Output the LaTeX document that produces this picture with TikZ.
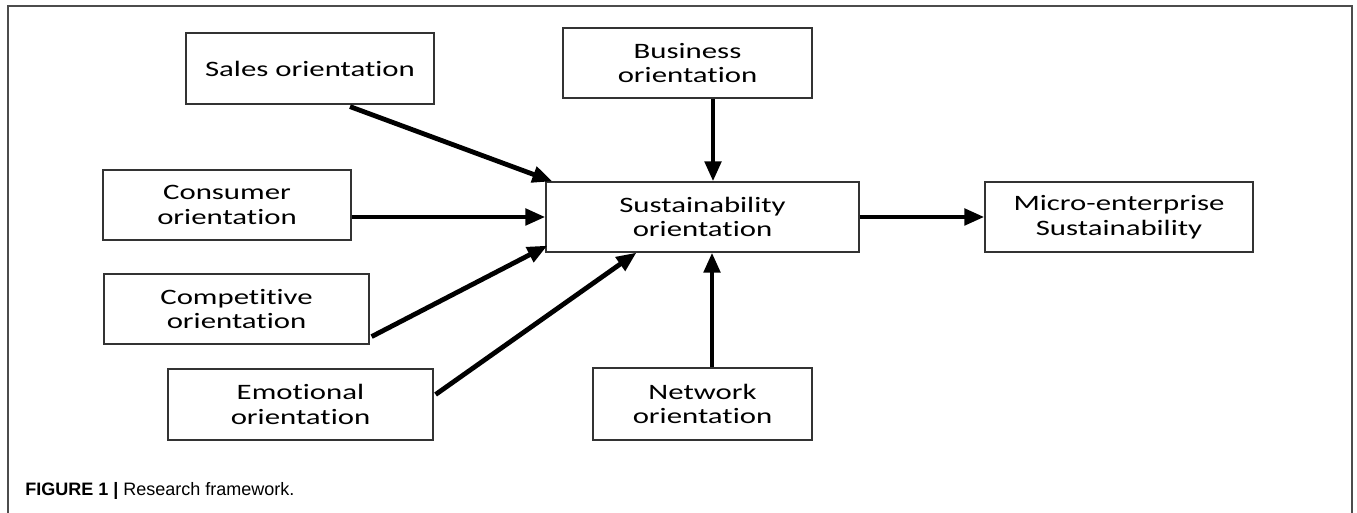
\documentclass[tikz,border=0pt]{standalone}
\usepackage{fontspec}
\setmainfont{Carlito}[FakeStretch=1.4,Ligatures=NoCommon]
\newfontfamily\capfont{Liberation Sans}
\usetikzlibrary{arrows.meta}

\begin{document}
\begin{tikzpicture}[x=0.75pt,y=-0.75pt,
        box/.style={draw=black!80,line width=0.9pt,align=center,inner sep=0pt,
            font=\fontsize{16.5}{18.5}\selectfont},
        arr/.style={line width=3.6pt,-{Triangle[length=15pt,width=12pt]}}]
    \useasboundingbox (0,0) rectangle (1357,513);
    \draw[black!70,line width=1.4pt] (8,513) -- (8,6) -- (1352,6) -- (1352,513);

    \node[box,minimum width=248*0.75pt,minimum height=71*0.75pt] (sales) at (310,68.5) {Sales orientation};
    \node[box,minimum width=249*0.75pt,minimum height=70*0.75pt] (bus) at (687.5,63) {Business\\orientation};
    \node[box,minimum width=248*0.75pt,minimum height=70*0.75pt] (cons) at (227,205) {Consumer\\orientation};
    \node[box,minimum width=265*0.75pt,minimum height=70*0.75pt] (comp) at (236.5,309) {Competitive\\orientation};
    \node[box,minimum width=265*0.75pt,minimum height=71*0.75pt] (emo) at (300.5,404.5) {Emotional\\orientation};
    \node[box,minimum width=219*0.75pt,minimum height=72*0.75pt] (net) at (702.5,404) {Network\\orientation};
    \node[box,minimum width=313*0.75pt,minimum height=70*0.75pt] (sus) at (702.5,217) {Sustainability\\orientation};
    \node[box,minimum width=268*0.75pt,minimum height=70*0.75pt] (micro) at (1119,217) {Micro-enterprise\\Sustainability};

    \node[anchor=base west,inner sep=0pt,font=\capfont\fontsize{13.5}{15}\selectfont] (cap) at (25,495)
        {\textbf{FIGURE 1 |} Research framework.};

    \draw[arr] ([shift={(40,2)}]sales.south) -- ([shift={(7,0)}]sus.north west);
    \draw[arr] ([shift={(25.5,0)}]bus.south) -- ([shift={(10.5,0)}]sus.north);
    \draw[arr] (cons.east |- sus.west) -- (sus.west);
    \draw[arr] ([shift={(2,-8)}]comp.south east) -- ([shift={(2,-7)}]sus.south west);
    \draw[arr] ([shift={(2,-10)}]emo.east) -- ([shift={(-66,0)}]sus.south);
    \draw[arr] ([shift={(9.5,0)}]net.north) -- ([shift={(9.5,0)}]sus.south);
    \draw[arr] (sus.east) -- (micro.west);
\end{tikzpicture}
\end{document}
